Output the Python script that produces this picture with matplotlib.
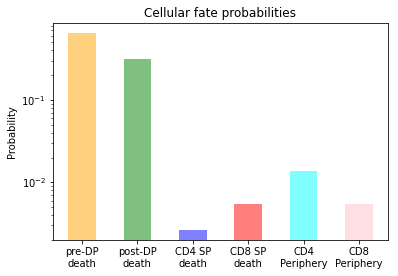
import matplotlib
matplotlib.use('Agg')
import matplotlib.pyplot as plt

# данные
fates = ['pre-DP\ndeath', 'post-DP\ndeath', 'CD4 SP\ndeath', 'CD8 SP\ndeath', 'CD4\nPeriphery', 'CD8\nPeriphery']
probs = [0.652, 0.315, 0.00263, 0.00545, 0.0137, 0.00545]
colors = ['orange', 'green', 'blue', 'red', 'cyan', 'pink']

fig = plt.figure(figsize=(398 / 72, 276 / 72), dpi=72)
ax = fig.add_axes([0.133, 0.1304, 0.842, 0.7851])

ax.bar(range(len(fates)), probs, width=0.5, color=colors, alpha=0.5)
ax.set_yscale('log')
ax.set_ylim(0.00199, 0.855)
ax.set_xticks(range(len(fates)))
ax.set_xticklabels(fates)
ax.set_ylabel('Probability')
ax.set_title('Cellular fate probabilities')

plt.savefig('out.png', dpi=72)
plt.close()
